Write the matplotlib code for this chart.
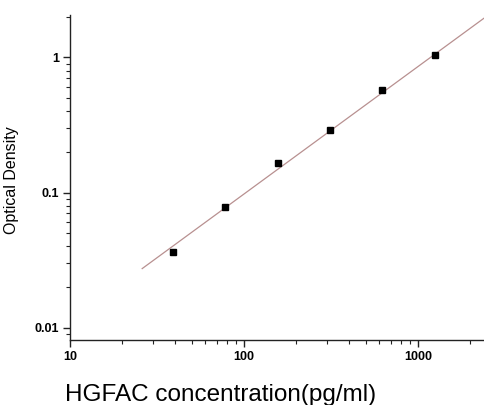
import numpy as np
import matplotlib
matplotlib.use("Agg")
import matplotlib.pyplot as plt
from matplotlib.ticker import LogLocator, FixedLocator, NullFormatter

conc = [39.06, 78.13, 156.25, 312.5, 625, 1250]
od = [0.036, 0.078, 0.165, 0.291, 0.570, 1.045]
fit_x = [26.0, 2400.0]
fit_slope = 0.943
fit_intercept_logy = -1.563  # log10(OD) at x=26

plt.rcParams['font.family'] = ['Liberation Sans', 'DejaVu Sans']

fig = plt.figure(figsize=(4.84, 4.05), dpi=100)
ax = fig.add_axes([70/484, (405-340)/405, (484-70)/484, (340-15)/405])

lx = np.log10(fit_x)
ly = fit_intercept_logy + fit_slope * (lx - lx[0])
ax.plot(fit_x, 10**ly, color='#b89090', lw=0.9, zorder=2)
ax.plot(conc, od, 's', color='black', ms=4.5, zorder=3)

ax.set_xscale('log')
ax.set_yscale('log')
ax.set_xlim(10, 2400)
ax.set_ylim(0.0081, 2.06)

for s in ['top', 'right']:
    ax.spines[s].set_visible(False)
for s in ['left', 'bottom']:
    ax.spines[s].set_linewidth(1.0)
    ax.spines[s].set_color('#222222')

ax.xaxis.set_major_locator(FixedLocator([10, 100, 1000]))
ax.yaxis.set_major_locator(FixedLocator([0.01, 0.1, 1]))
ax.xaxis.set_minor_locator(LogLocator(base=10, subs=np.arange(2, 10)))
ax.yaxis.set_minor_locator(LogLocator(base=10, subs=np.arange(2, 10)))
ax.xaxis.set_minor_formatter(NullFormatter())
ax.yaxis.set_minor_formatter(NullFormatter())
ax.set_xticklabels(['10', '100', '1000'])
ax.set_yticklabels(['0.01', '0.1', '1'])

ax.tick_params(which='major', direction='out', length=5, width=1, color='#222222',
               labelsize=9, pad=3)
ax.tick_params(which='minor', direction='out', length=3, width=0.8, color='#222222')
for lab in ax.get_xticklabels() + ax.get_yticklabels():
    lab.set_fontweight('bold')

ax.set_ylabel('Optical Density', fontsize=11.5)
ax.yaxis.set_label_coords(-(70-19)/414, 0.5 - (180-177.5)/325)
fig.text(221/484, (405-401)/405, 'HGFAC concentration(pg/ml)', fontsize=17.5,
         ha='center', va='baseline')

fig.savefig('out.png', dpi=100, facecolor='white')
